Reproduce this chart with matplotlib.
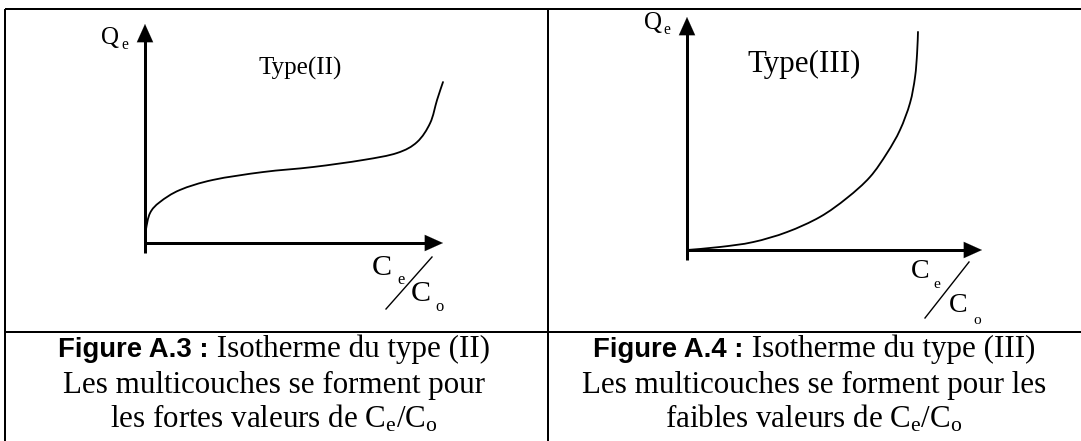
import matplotlib
matplotlib.use("Agg")
import matplotlib.pyplot as plt
from matplotlib.path import Path
from matplotlib.patches import PathPatch

# ---- data (normalised C_e/C_o and Q_e) ----
type2_x = [0.0, 0.003, 0.017, 0.050, 0.117, 0.228, 0.396, 0.564, 0.732, 0.846, 0.913, 0.957, 0.980, 1.0]
type2_y = [0.0, 0.059, 0.137, 0.187, 0.242, 0.288, 0.324, 0.347, 0.379, 0.411, 0.461, 0.548, 0.653, 0.735]

type3_x = [0.0, 0.112, 0.224, 0.339, 0.451, 0.542, 0.620, 0.678, 0.722, 0.756, 0.773, 0.780, 0.783]
type3_y = [0.0, 0.013, 0.034, 0.077, 0.142, 0.223, 0.313, 0.416, 0.515, 0.631, 0.742, 0.845, 0.936]

panel_titles = ["Type(II)", "Type(III)"]
caption_bold = ["Figure A.3 :", "Figure A.4 :"]
caption_l1 = [" Isotherme du type (II)", " Isotherme du type (III)"]
caption_l2 = ["Les multicouches se forment pour", "Les multicouches se forment pour les"]
caption_l3 = ["les fortes valeurs de ", "faibles valeurs de "]

W, H = 1081, 441
DPI = 100
fig = plt.figure(figsize=(W / DPI, H / DPI), dpi=DPI)
fig.patch.set_facecolor("white")

SERIF = "Liberation Serif"
SANS = "Liberation Sans"
plt.rcParams["mathtext.fontset"] = "custom"
plt.rcParams["mathtext.rm"] = SERIF
plt.rcParams["mathtext.it"] = SERIF + ":italic"

def px(v):
    return v * 0.72  # pixel font size -> points

bg = fig.add_axes([0, 0, 1, 1])
bg.set_xlim(0, W)
bg.set_ylim(H, 0)
bg.axis("off")

# table lines
lw_tab = 2.0 * 0.72
bg.plot([5, W], [9, 9], color="black", lw=lw_tab, solid_capstyle="butt")
bg.plot([5, W], [332, 332], color="black", lw=lw_tab, solid_capstyle="butt")
bg.plot([5, 5], [9, H], color="black", lw=lw_tab, solid_capstyle="butt")
bg.plot([548, 548], [9, H], color="black", lw=lw_tab, solid_capstyle="butt")


def smooth_path(xs, ys):
    """Catmull-Rom through the read points, drawn as cubic Bezier segments."""
    pts = list(zip(xs, ys))
    n = len(pts)
    verts = [pts[0]]
    codes = [Path.MOVETO]
    for i in range(n - 1):
        p0 = pts[i - 1] if i > 0 else pts[i]
        p1 = pts[i]
        p2 = pts[i + 1]
        p3 = pts[i + 2] if i + 2 < n else pts[i + 1]
        c1 = (p1[0] + (p2[0] - p0[0]) / 6, p1[1] + (p2[1] - p0[1]) / 6)
        c2 = (p2[0] - (p3[0] - p1[0]) / 6, p2[1] - (p3[1] - p1[1]) / 6)
        verts += [c1, c2, p2]
        codes += [Path.CURVE4] * 3
    return Path(verts, codes)


def panel(x0, y0, x1, y1, xs, ys):
    ax = fig.add_axes([x0 / W, (H - y0) / H, (x1 - x0) / W, (y0 - y1) / H])
    ax.set_xlim(0, 1)
    ax.set_ylim(0, 1)
    ax.axis("off")
    ax.patch.set_alpha(0)
    alw = 3.0 * 0.72
    ax.plot([0, 0], [-0.045, 0.94], color="black", lw=alw, clip_on=False, solid_capstyle="butt")
    ax.plot([0, 0.95], [0, 0], color="black", lw=alw, clip_on=False, solid_capstyle="butt")
    ax.annotate("", xy=(0, 1), xytext=(0, 0.9), xycoords="axes fraction",
                arrowprops=dict(arrowstyle="-|>,head_length=1.0,head_width=0.45",
                                color="black", lw=0.1, shrinkA=0, shrinkB=0, mutation_scale=13))
    ax.annotate("", xy=(1, 0), xytext=(0.9, 0), xycoords="axes fraction",
                arrowprops=dict(arrowstyle="-|>,head_length=1.0,head_width=0.45",
                                color="black", lw=0.1, shrinkA=0, shrinkB=0, mutation_scale=13))
    ax.add_patch(PathPatch(smooth_path(xs, ys), facecolor="none", edgecolor="black",
                           lw=1.3, clip_on=False, capstyle="round"))
    return ax

panel(145, 243, 443, 24, type2_x, type2_y)
panel(687, 250, 982, 17, type3_x, type3_y)

# axis labels
def qlabel(xq, yq, xe, ye, fs):
    bg.text(xq, yq, "Q", fontsize=px(fs), family=SERIF, ha="left", va="center")
    bg.text(xe, ye, "e", fontsize=px(fs * 0.62), family=SERIF, ha="left", va="center")

qlabel(101, 38, 121, 45, 25)
qlabel(644, 23, 663, 30, 25)

def clabel(xc, yc, xe, ye, xco, yco, xo, yo, sl, fs):
    bg.text(xc, yc, "C", fontsize=px(fs), family=SERIF, ha="left", va="center")
    bg.text(xe, ye, "e", fontsize=px(fs * 0.55), family=SERIF, ha="left", va="center")
    bg.text(xco, yco, "C", fontsize=px(fs), family=SERIF, ha="left", va="center")
    bg.text(xo, yo, "o", fontsize=px(fs * 0.55), family=SERIF, ha="left", va="center")
    bg.plot([sl[0], sl[2]], [sl[1], sl[3]], color="black", lw=1.0)

clabel(372, 268, 397, 280, 411, 294, 435, 307, (386, 309, 432, 257), 30)
clabel(911, 272, 933, 285, 949, 305, 973, 321, (925, 318, 969, 262), 28)

bg.text(300, 68, panel_titles[0], fontsize=px(25), family=SERIF, ha="center", va="center")
bg.text(804, 64, panel_titles[1], fontsize=px(31), family=SERIF, ha="center", va="center")

# captions
CFS = 31
centres = [274, 814]
baselines = [357, 393, 427]
fig.canvas.draw()
r = fig.canvas.get_renderer()

def width_px(t):
    return t.get_window_extent(renderer=r).width

for i in range(2):
    tb = bg.text(0, baselines[0], caption_bold[i], fontsize=px(27.5), family=SANS,
                 weight="bold", ha="left", va="baseline")
    tn = bg.text(0, baselines[0], caption_l1[i], fontsize=px(CFS), family=SERIF,
                 ha="left", va="baseline")
    wb, wn = width_px(tb), width_px(tn)
    x0 = centres[i] - (wb + wn) / 2
    tb.set_position((x0, baselines[0]))
    tn.set_position((x0 + wb, baselines[0]))
    bg.text(centres[i], baselines[1], caption_l2[i], fontsize=px(CFS), family=SERIF,
            ha="center", va="baseline")
    bg.text(centres[i], baselines[2], caption_l3[i] + r"$\mathrm{C_e/C_o}$", fontsize=px(CFS),
            family=SERIF, ha="center", va="baseline")

fig.savefig("out.png", dpi=DPI, facecolor="white")
